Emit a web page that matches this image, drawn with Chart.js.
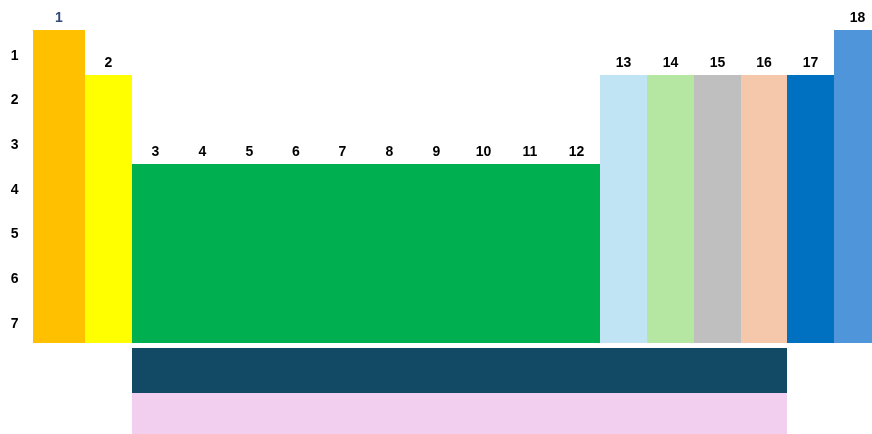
<!DOCTYPE html>
<html>
<head>
<meta charset="utf-8">
<script src="https://cdn.jsdelivr.net/npm/chart.js@4.4.0/dist/chart.umd.min.js"></script>
<style>
  html, body { margin: 0; padding: 0; overflow: hidden; background: #ffffff; width: 872px; height: 434px; }
  #wrap { position: relative; width: 881px; height: 434px; }
</style>
</head>
<body>
<div id="wrap"><canvas id="c"></canvas></div>
<script>
// ---- Data ----
const groups = ['1','2','3','4','5','6','7','8','9','10','11','12','13','14','15','16','17','18'];
const periods = ['1','2','3','4','5','6','7'];
// number of periods (rows) each group column spans, counted from period 7 upward
const groupPeriodCounts = [7, 6, 4, 4, 4, 4, 4, 4, 4, 4, 4, 4, 6, 6, 6, 6, 6, 7];
// f-block rows drawn below the main table (floating bar ranges)
const lanthanideRow = [-1.12, -0.12];
const actinideRow = [-2.12, -1.12];
const fBlockGroups = ['3','4','5','6','7','8','9','10','11','12','13','14','15','16'];

// ---- Styles ----
const groupColors = ['#FFC000', '#FFFF00',
  '#00B050', '#00B050', '#00B050', '#00B050', '#00B050', '#00B050', '#00B050', '#00B050', '#00B050', '#00B050',
  '#C1E4F5', '#B5E6A2', '#BFBFBF', '#F5C7AB', '#0070C0', '#4E95D9'];
const groupLabelColors = groups.map((g, i) => i === 0 ? '#30497A' : '#000000');
const lanthanideColor = '#124964';
const actinideColor = '#F2CEEF';
const labelFont = 'bold 14px "Liberation Sans", Arial, sans-serif';

const mainData = groupPeriodCounts.map((v, i) => i === 0 ? null : v);
const group1Data = groupPeriodCounts.map((v, i) => i === 0 ? v : null);
const lanthData = groups.map(g => fBlockGroups.includes(g) ? lanthanideRow : null);
const actData = groups.map(g => fBlockGroups.includes(g) ? actinideRow : null);

// visible span of a bar: a bar wider than its category is right-aligned to the category edge
function visibleSpan(chart, bar) {
  const catW = chart.scales.x.width / groups.length;
  const right = Math.min(bar.x + bar.width / 2, bar.x + catW / 2);
  return { left: right - bar.width, right: right };
}

// snap bar edges to whole pixels so adjacent bars join without seams
const snapBarsPlugin = {
  id: 'snapBars',
  beforeDatasetsDraw(chart) {
    chart.data.datasets.forEach((ds, di) => {
      chart.getDatasetMeta(di).data.forEach((bar, i) => {
        if (ds.data[i] == null) return;
        const span = visibleSpan(chart, bar);
        const l = Math.round(span.left), r = Math.round(span.right);
        bar.x = (l + r) / 2;
        bar.width = r - l;
        bar.y = Math.round(bar.y);
        bar.base = Math.round(bar.base);
        bar.height = bar.base - bar.y;
      });
    });
  }
};

// group number above each column (bars are already snapped to their visible span)
const groupLabelPlugin = {
  id: 'groupLabels',
  afterDatasetsDraw(chart) {
    const ctx = chart.ctx;
    ctx.save();
    ctx.font = labelFont;
    ctx.textAlign = 'center';
    ctx.textBaseline = 'middle';
    [0, 1].forEach(di => {
      const meta = chart.getDatasetMeta(di);
      meta.data.forEach((bar, i) => {
        const v = chart.data.datasets[di].data[i];
        if (v == null) return;
        ctx.fillStyle = groupLabelColors[i];
        ctx.fillText(groups[i], bar.x, bar.y - 12);
      });
    });
    ctx.restore();
  }
};

new Chart(document.getElementById('c'), {
  type: 'bar',
  data: {
    labels: groups,
    datasets: [
      { label: 'Groups', data: mainData, backgroundColor: groupColors, grouped: false,
        barPercentage: 1, categoryPercentage: 1, borderWidth: 0, inflateAmount: 0 },
      { label: 'Group 1', data: group1Data, backgroundColor: groupColors, grouped: false,
        barPercentage: 1.12, categoryPercentage: 1, borderWidth: 0, inflateAmount: 0, clip: false },
      { label: 'Lanthanides', data: lanthData, backgroundColor: lanthanideColor, grouped: false,
        barPercentage: 1, categoryPercentage: 1, borderWidth: 0, inflateAmount: 0 },
      { label: 'Actinides', data: actData, backgroundColor: actinideColor, grouped: false,
        barPercentage: 1, categoryPercentage: 1, borderWidth: 0, inflateAmount: 0 }
    ]
  },
  options: {
    responsive: true,
    maintainAspectRatio: false,
    animation: false,
    layout: { padding: 0 },
    plugins: { legend: { display: false }, tooltip: { enabled: false } },
    scales: {
      x: { display: false, grid: { display: false } },
      y: {
        min: -2.044, max: 7.672,
        grid: { display: false, drawTicks: false },
        border: { display: false },
        afterBuildTicks: s => { s.ticks = periods.map((p, i) => ({ value: 6.42 - i })); },
        afterFit: s => { s.width = 38.6; s.paddingTop = 0; s.paddingBottom = 0; },
        ticks: {
          autoSkip: false,
          crossAlign: 'center',
          padding: 20,
          color: '#000000',
          font: { family: '"Liberation Sans", Arial, sans-serif', size: 14, weight: 'bold' },
          callback: (v, i) => periods[i]
        }
      }
    }
  },
  plugins: [snapBarsPlugin, groupLabelPlugin]
});
</script>
</body>
</html>
